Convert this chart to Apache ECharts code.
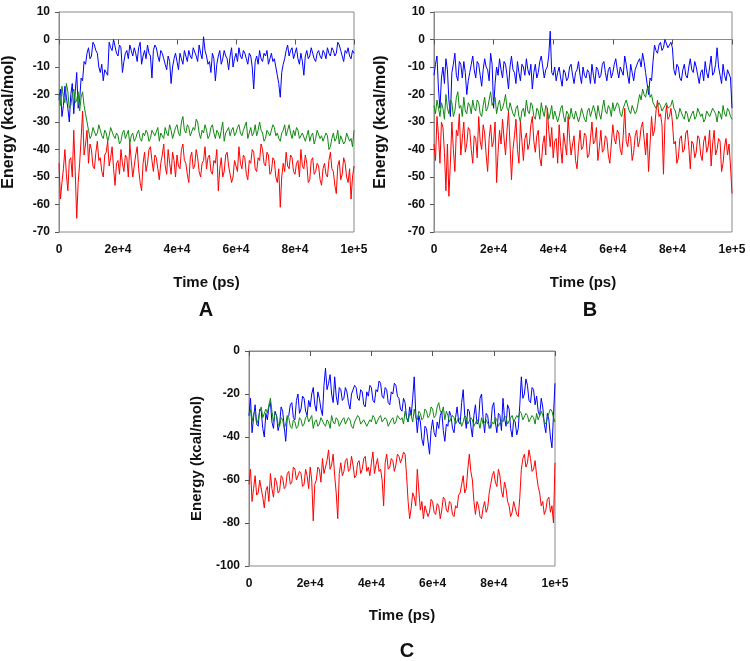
<!DOCTYPE html>
<html>
<head>
<meta charset="utf-8">
<script src="https://cdn.jsdelivr.net/npm/echarts@6/dist/echarts.min.js"></script>
<style>html,body{margin:0;padding:0;background:#fff}#c{width:750px;height:661px}</style>
</head>
<body>
<div id="c"></div>
<script>
// time step between samples (ps)
const timeStep = 500;
const xTickLabels = ['0', '2e+4', '4e+4', '6e+4', '8e+4', '1e+5'];
const panelTitles = ['A', 'B', 'C'];

const blueA = [
-22,-18,-28,-24,-17,-21,-25,-30,-20,-16,-27,-19,-12,-25,-22,-14,-15,-8,-9,-5,
-3,-7,-6,-1,-2,-4,-5,-10,-12,-9,-15,-11,-11,-13,-1,-3,-4,0,0,-5,
-6,-2,-3,-12,-8,-5,-4,-7,-2,-4,-6,-3,-5,-8,-3,-1,-9,-6,-4,-7,
-2,-5,-6,-14,-4,-2,-3,-6,-8,-4,-5,-7,-9,-11,-6,-8,-16,-10,-7,-5,
-8,-11,-5,-7,-9,-4,-6,-8,-4,-6,-7,-3,-3,-6,-8,-2,-5,-7,1,-4,
-6,-9,-8,-12,-5,-7,-15,-9,-6,-4,-9,-7,-4,-6,-7,-11,-6,-3,-10,-7,
-5,-8,-3,-6,-7,-4,-5,-7,-9,-5,-6,-10,-18,-8,-6,-9,-4,-7,-8,-5,
-6,-4,-9,-7,-5,-8,-7,-10,-13,-16,-21,-12,-9,-7,-4,-2,-6,-4,-3,-7,
-5,-3,-7,-9,-5,-8,-13,-6,-4,-7,-6,-3,-5,-7,-8,-5,-4,-6,-7,-4,
-5,-7,-3,-5,-6,-3,-4,-6,-5,-1,-2,-4,-6,-8,-4,-5,-3,-6,-7,-4,
-5];
const greenA = [
-20,-24,-17,-21,-23,-16,-19,-25,-24,-20,-18,-23,-22,-19,-26,-21,-19,-24,-27,-30,
-33,-36,-35,-32,-32,-35,-34,-31,-33,-35,-36,-33,-34,-37,-35,-32,-32,-35,-36,-34,
-35,-38,-37,-34,-33,-36,-36,-33,-38,-35,-34,-37,-36,-34,-33,-36,-37,-34,-35,-33,
-34,-37,-36,-33,-33,-35,-35,-32,-37,-34,-34,-36,-32,-34,-35,-31,-33,-36,-34,-32,
-31,-34,-35,-30,-28,-33,-34,-31,-32,-35,-35,-32,-33,-29,-30,-34,-36,-33,-34,-31,
-33,-36,-35,-32,-31,-34,-36,-33,-34,-36,-33,-30,-37,-34,-34,-32,-35,-33,-32,-35,
-34,-32,-31,-34,-35,-33,-33,-30,-36,-34,-32,-35,-34,-31,-35,-33,-30,-33,-34,-37,
-36,-33,-33,-35,-35,-31,-32,-35,-34,-36,-37,-34,-33,-31,-35,-33,-31,-34,-36,-33,
-35,-32,-33,-36,-36,-34,-34,-37,-35,-33,-37,-35,-34,-38,-36,-33,-33,-36,-35,-37,
-37,-34,-35,-40,-39,-36,-34,-37,-36,-33,-38,-35,-35,-38,-37,-34,-34,-37,-36,-39,
-33];
const redA = [
-45,-58,-52,-47,-40,-49,-55,-44,-43,-50,-33,-48,-65,-52,-45,-36,-26,-42,-38,-33,
-45,-38,-40,-46,-47,-41,-37,-44,-43,-48,-50,-42,-41,-37,-46,-43,-39,-47,-53,-45,
-44,-49,-40,-45,-48,-42,-43,-50,-38,-44,-50,-46,-42,-39,-47,-52,-55,-45,-41,-48,
-45,-40,-39,-44,-48,-42,-43,-47,-51,-45,-42,-38,-46,-49,-40,-45,-49,-41,-44,-50,
-42,-46,-47,-40,-38,-44,-45,-49,-52,-43,-41,-47,-46,-40,-43,-48,-50,-45,-44,-39,
-47,-43,-42,-48,-49,-44,-45,-40,-55,-47,-43,-50,-48,-42,-41,-46,-46,-52,-50,-44,
-44,-48,-39,-45,-47,-42,-43,-49,-51,-44,-45,-40,-41,-47,-48,-43,-44,-38,-40,-45,
-46,-41,-42,-49,-48,-43,-44,-50,-52,-47,-61,-50,-45,-48,-41,-46,-47,-42,-43,-48,
-49,-45,-44,-50,-40,-46,-47,-42,-45,-52,-51,-44,-43,-49,-48,-45,-46,-51,-53,-47,
-45,-49,-50,-44,-41,-47,-48,-53,-56,-46,-44,-51,-49,-43,-45,-50,-52,-47,-58,-50,
-46];

const blueB = [
-13,-9,-6,-18,-25,-14,-10,-16,-7,-11,-22,-28,-12,-9,-5,-13,-15,-8,-9,-14,
-8,-12,-20,-15,-12,-9,-6,-11,-14,-8,-9,-13,-17,-11,-7,-10,-11,-15,-5,-9,
-25,-16,-10,-13,-7,-11,-14,-8,-9,-13,-18,-10,-6,-11,-12,-16,-8,-12,-15,-9,
-10,-13,-7,-11,-13,-9,-18,-12,-9,-14,-12,-8,-6,-10,-14,-11,-10,-6,3,-12,
-13,-10,-15,-12,-10,-14,-17,-11,-12,-15,-14,-10,-9,-13,-16,-12,-11,-8,-13,-16,
-10,-13,-14,-11,-12,-16,-9,-13,-16,-10,-11,-14,-13,-9,-8,-12,-15,-11,-10,-14,
-12,-9,-7,-11,-14,-10,-10,-13,-6,-9,-13,-16,-9,-12,-15,-11,-11,-8,-7,-10,
-5,-8,-12,-16,-20,-14,-15,-8,-2,-4,-5,-2,-1,-4,-3,0,0,-3,-2,-1,
-3,-11,-13,-9,-10,-14,-15,-11,-9,-13,-14,-10,-7,-11,-12,-8,-10,-13,-16,-12,
-11,-15,-8,-12,-14,-10,-6,-13,-12,-9,-3,-10,-13,-16,-9,-13,-15,-11,-11,-14,
-25];
const greenB = [
-24,-27,-22,-25,-28,-23,-25,-29,-20,-25,-27,-22,-23,-28,-26,-21,-19,-25,-24,-28,
-21,-26,-27,-23,-24,-27,-22,-25,-26,-22,-23,-27,-28,-24,-21,-26,-25,-22,-19,-24,
-24,-21,-27,-24,-22,-26,-25,-23,-20,-25,-26,-23,-23,-27,-28,-25,-24,-28,-30,-26,
-25,-28,-22,-26,-27,-23,-24,-28,-29,-25,-26,-29,-23,-26,-28,-24,-25,-29,-27,-24,
-29,-26,-26,-30,-28,-25,-24,-28,-30,-26,-27,-29,-25,-28,-29,-26,-26,-30,-28,-25,
-27,-29,-30,-26,-25,-28,-28,-24,-26,-29,-24,-27,-29,-25,-22,-26,-27,-24,-25,-28,
-23,-26,-26,-23,-24,-27,-28,-25,-25,-22,-22,-26,-27,-24,-24,-27,-26,-23,-20,-22,
-18,-20,-21,-18,-17,-21,-20,-23,-23,-25,-25,-23,-24,-26,-26,-24,-23,-25,-25,-24,
-22,-25,-26,-29,-28,-25,-25,-28,-29,-26,-27,-30,-30,-27,-26,-29,-28,-25,-25,-28,
-27,-30,-29,-26,-26,-28,-28,-25,-25,-27,-30,-26,-27,-29,-24,-27,-28,-25,-26,-28,
-29];
const redB = [
-38,-44,-28,-35,-45,-30,-32,-41,-55,-38,-57,-45,-30,-40,-48,-33,-35,-27,-42,-36,
-30,-41,-38,-32,-33,-40,-45,-35,-36,-43,-28,-37,-40,-31,-34,-42,-48,-36,-31,-39,
-37,-30,-52,-41,-33,-38,-29,-36,-42,-33,-26,-38,-51,-40,-35,-29,-40,-45,-30,-37,
-44,-36,-34,-40,-38,-31,-28,-37,-41,-35,-33,-43,-46,-38,-35,-42,-25,-33,-39,-32,
-43,-37,-36,-45,-31,-39,-45,-34,-38,-42,-28,-36,-42,-38,-35,-44,-47,-39,-33,-40,
-39,-34,-35,-43,-42,-36,-30,-38,-37,-32,-44,-39,-33,-41,-40,-35,-36,-42,-45,-38,
-31,-36,-38,-33,-34,-40,-42,-35,-25,-37,-39,-34,-36,-44,-41,-35,-33,-39,-37,-32,
-30,-36,-42,-34,-48,-38,-28,-35,-33,-26,-22,-28,-27,-31,-49,-30,-24,-29,-28,-25,
-30,-38,-37,-45,-43,-36,-35,-41,-40,-34,-33,-39,-47,-37,-38,-43,-41,-35,-36,-42,
-44,-37,-35,-41,-39,-33,-46,-38,-33,-42,-40,-36,-37,-48,-45,-39,-36,-42,-38,-46,
-56];

const blueC = [
-30,-22,-38,-31,-25,-34,-35,-27,-28,-36,-40,-29,-32,-26,-24,-33,-36,-28,-30,-37,
-34,-26,-28,-35,-42,-31,-30,-25,-24,-31,-32,-23,-20,-29,-27,-21,-22,-28,-30,-23,
-26,-20,-17,-25,-28,-19,-22,-27,-30,-16,-8,-18,-15,-11,-20,-24,-12,-21,-25,-17,
-18,-23,-22,-17,-19,-24,-27,-20,-20,-16,-17,-22,-23,-18,-19,-25,-26,-19,-21,-16,
-17,-23,-24,-18,-19,-14,-15,-21,-22,-17,-18,-24,-25,-19,-20,-15,-16,-21,-22,-27,
-28,-22,-24,-31,-33,-26,-30,-22,-12,-29,-38,-30,-33,-41,-44,-35,-36,-42,-48,-37,
-32,-38,-40,-33,-36,-30,-28,-37,-42,-34,-35,-28,-30,-36,-38,-31,-26,-33,-34,-24,
-18,-30,-36,-27,-28,-35,-40,-30,-25,-34,-33,-22,-20,-31,-38,-29,-30,-36,-35,-26,
-24,-33,-38,-29,-30,-37,-22,-31,-35,-25,-27,-36,-40,-32,-33,-39,-36,-25,-12,-22,
-20,-13,-16,-23,-24,-17,-18,-25,-21,-28,-30,-22,-26,-34,-38,-29,-32,-40,-45,-30,
-15];
const greenC = [
-30,-27,-33,-29,-28,-34,-32,-28,-26,-31,-31,-27,-29,-25,-22,-28,-33,-29,-30,-34,
-35,-31,-32,-36,-34,-30,-31,-35,-36,-32,-33,-36,-35,-31,-32,-35,-34,-31,-30,-33,
-33,-30,-36,-33,-32,-35,-34,-31,-31,-34,-35,-32,-33,-36,-30,-33,-34,-31,-32,-35,
-35,-32,-31,-34,-34,-31,-32,-35,-36,-33,-33,-30,-31,-34,-34,-32,-32,-35,-35,-32,
-33,-30,-31,-34,-34,-31,-30,-33,-33,-31,-32,-35,-35,-32,-31,-34,-33,-30,-30,-32,
-31,-34,-28,-31,-33,-29,-30,-33,-27,-31,-32,-28,-29,-32,-31,-27,-28,-31,-30,-26,
-27,-31,-30,-26,-24,-28,-29,-26,-32,-28,-30,-33,-33,-30,-31,-34,-34,-31,-32,-35,
-33,-30,-31,-34,-34,-31,-32,-35,-35,-32,-33,-36,-31,-34,-34,-32,-32,-35,-36,-33,
-34,-31,-32,-35,-35,-32,-33,-30,-31,-34,-34,-31,-30,-33,-33,-30,-31,-28,-29,-32,
-32,-29,-30,-33,-33,-30,-31,-34,-29,-32,-32,-28,-30,-33,-34,-31,-31,-27,-28,-31,
-33];
const redC = [
-62,-55,-70,-64,-58,-67,-66,-60,-60,-68,-73,-65,-63,-70,-57,-64,-68,-59,-61,-66,
-65,-58,-59,-64,-63,-57,-56,-62,-61,-54,-55,-60,-60,-56,-57,-63,-62,-55,-58,-64,
-54,-60,-79,-62,-60,-54,-55,-61,-50,-57,-57,-51,-46,-55,-53,-48,-58,-66,-78,-57,
-52,-58,-56,-51,-50,-56,-55,-49,-53,-59,-58,-52,-51,-57,-55,-50,-49,-56,-54,-58,
-52,-47,-57,-53,-50,-56,-55,-60,-72,-52,-48,-55,-54,-50,-51,-56,-53,-48,-49,-52,
-50,-47,-48,-58,-70,-78,-73,-66,-68,-72,-55,-65,-74,-70,-78,-72,-72,-77,-75,-69,
-70,-75,-76,-71,-72,-78,-74,-68,-69,-74,-75,-70,-71,-76,-77,-72,-73,-67,-66,-62,
-58,-66,-64,-55,-48,-56,-60,-70,-76,-70,-72,-77,-78,-73,-70,-75,-73,-66,-62,-58,
-56,-61,-63,-55,-58,-65,-68,-61,-64,-70,-72,-77,-75,-70,-70,-76,-77,-68,-55,-50,
-48,-54,-52,-46,-50,-56,-55,-51,-58,-63,-66,-72,-70,-76,-74,-69,-68,-75,-72,-80,
-52];

const panelSeries = [
  {blue: blueA, green: greenA, red: redA},
  {blue: blueB, green: greenB, red: redB},
  {blue: blueC, green: greenC, red: redC}
];
const yRanges = [[-70, 10, 10], [-70, 10, 10], [-100, 0, 20]];

const FONT = "'Liberation Sans', Arial, sans-serif";
const grids = [
  {left: 55, top: 12, width: 299, height: 220},
  {left: 434, top: 12, width: 298, height: 220},
  {left: 249, top: 351, width: 306, height: 215}
];
const titlePos = [[201, 295], [585, 295], [402, 636]];
const yNameGap = [42, 45, 45];
const yNameSize = [16, 16, 15];

const toPairs = arr => arr.map((v, i) => [i * timeStep, v]);

const option = {
  animation: false,
  backgroundColor: '#fff',
  title: panelTitles.map((t, i) => ({
    text: t, left: titlePos[i][0], top: titlePos[i][1], textAlign: 'center',
    textStyle: {fontFamily: FONT, fontWeight: 'bold', fontSize: 20, color: '#111'}
  })),
  grid: grids.map(g => Object.assign({show: true, borderColor: '#8a8a8a', borderWidth: 1, backgroundColor: 'transparent'}, g)),
  xAxis: grids.map((g, i) => ({
    type: 'value', gridIndex: i, min: 0, max: 100000, interval: 20000,
    name: 'Time (ps)', nameLocation: 'middle', nameGap: i === 2 ? 42 : 43,
    nameTextStyle: {fontFamily: FONT, fontWeight: 'bold', fontSize: 15, color: '#111'},
    axisLine: {show: true, lineStyle: {color: '#8a8a8a', width: 1}},
    axisTick: {show: true, length: 5, lineStyle: {color: '#555'}},
    axisLabel: {margin: 12, fontFamily: FONT, fontWeight: 'bold', fontSize: 12, color: '#111',
      formatter: v => xTickLabels[Math.round(v / 20000)]},
    splitLine: {show: false}
  })),
  yAxis: grids.map((g, i) => ({
    type: 'value', gridIndex: i, min: yRanges[i][0], max: yRanges[i][1], interval: yRanges[i][2],
    name: 'Energy (kcal/mol)', nameLocation: 'middle', nameGap: yNameGap[i],
    nameTextStyle: {fontFamily: FONT, fontWeight: 'bold', fontSize: yNameSize[i], color: '#111'},
    axisLine: {show: true, lineStyle: {color: '#8a8a8a', width: 1}},
    axisTick: {show: true, length: 4, lineStyle: {color: '#555'}},
    axisLabel: {margin: 9, fontFamily: FONT, fontWeight: 'bold', fontSize: 12, color: '#111'},
    splitLine: {show: false}
  })),
  series: []
};

const colors = {blue: '#0000ff', red: '#ff0000', green: '#108a10'};
panelSeries.forEach((p, i) => {
  ['blue', 'red', 'green'].forEach(k => {
    option.series.push({
      type: 'line', xAxisIndex: i, yAxisIndex: i, data: toPairs(p[k]),
      showSymbol: false, symbol: 'none', lineStyle: {color: colors[k], width: 1},
      itemStyle: {color: colors[k]}, silent: true
    });
  });
});

const chart = echarts.init(document.getElementById('c'), null, {renderer: 'canvas'});
chart.setOption(option);
</script>
</body>
</html>
